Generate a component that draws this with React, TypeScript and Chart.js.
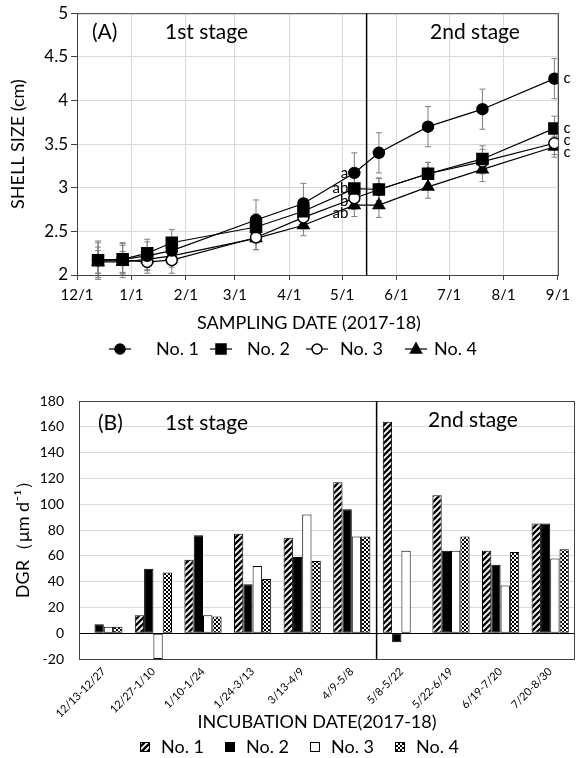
import React, { useEffect, useRef } from "react";
import { Chart, registerables } from "chart.js";

Chart.register(...registerables);

const FONT = "Lato, 'Open Sans', sans-serif";
const TEXT = "#000";
const GRID = "#d9d9d9";
const AXIS = "#404040";

// ---------------- (A) SHELL SIZE ----------------
const seriesNames = ["No. 1", "No. 2", "No. 3", "No. 4"];
const axisStartDate = "2017-12-01";
const samplingDates = [
  "2017-12-13", "2017-12-27", "2018-01-10", "2018-01-24", "2018-03-13", "2018-04-09",
  "2018-05-08", "2018-05-22", "2018-06-19", "2018-07-20", "2018-08-30",
];
const axisTickDates = [
  "2017-12-01", "2018-01-01", "2018-02-01", "2018-03-01", "2018-04-01",
  "2018-05-01", "2018-06-01", "2018-07-01", "2018-08-01", "2018-09-01",
];
const axisTickLabels = ["12/1", "1/1", "2/1", "3/1", "4/1", "5/1", "6/1", "7/1", "8/1", "9/1"];
const stageBoundaryDate = "2018-05-15";

const no1Size = [2.17, 2.18, 2.22, 2.28, 2.63, 2.82, 3.17, 3.40, 3.70, 3.90, 4.25];
const no2Size = [2.17, 2.18, 2.25, 2.37, 2.55, 2.73, 2.99, 2.98, 3.16, 3.33, 3.68];
const no3Size = [2.17, 2.17, 2.15, 2.17, 2.43, 2.66, 2.88, 2.98, 3.16, 3.30, 3.51];
const no4Size = [2.15, 2.15, 2.18, 2.22, 2.42, 2.57, 2.80, 2.80, 3.01, 3.21, 3.47];

const no1Err = [0.2, 0.18, 0.16, 0.15, 0.23, 0.23, 0.23, 0.23, 0.23, 0.23, 0.23];
const no2Err = [0.15, 0.16, 0.16, 0.15, 0.15, 0.14, 0.13, 0.13, 0.13, 0.15, 0.14];
const no3Err = [0.22, 0.2, 0.13, 0.15, 0.14, 0.13, 0.13, 0.13, 0.13, 0.14, 0.13];
const no4Err = [0.13, 0.12, 0.13, 0.13, 0.13, 0.12, 0.13, 0.14, 0.13, 0.14, 0.12];

const midLetters = ["a", "ab", "b", "ab"]; // at 5/8
const endLetters = ["c", "c", "c", "c"]; // at 8/30

// ---------------- (B) DGR ----------------
const incubationPeriods = [
  "12/13-12/27", "12/27-1/10", "1/10-1/24", "1/24-3/13", "3/13-4/9",
  "4/9-5/8", "5/8-5/22", "5/22-6/19", "6/19-7/20", "7/20-8/30",
];
const no1Dgr = [null, 14, 57, 77, 74, 117, 164, 107, 64, 85];
const no2Dgr = [7, 50, 76, 38, 59, 96, -7, 64, 53, 85];
const no3Dgr = [5, -20, 14, 52, 92, 75, 64, 64, 37, 58];
const no4Dgr = [5, 47, 13, 42, 56, 75, null, 75, 63, 65];
const stageBoundaryIndex = 5; // boundary after this category

const dayOf = (s: string) =>
  (Date.parse(s + "T00:00:00Z") - Date.parse(axisStartDate + "T00:00:00Z")) / 86400000;

const font = (size: number) => `${size}px ${FONT}`;

function drawMarker(ctx: CanvasRenderingContext2D, style: string, x: number, y: number, filled: boolean) {
  ctx.save();
  ctx.fillStyle = filled ? "#000" : "#fff";
  ctx.strokeStyle = "#000";
  ctx.lineWidth = 1.5;
  ctx.beginPath();
  if (style === "circle") ctx.arc(x, y, 5, 0, Math.PI * 2);
  else if (style === "rect") ctx.rect(x - 5, y - 5, 10, 10);
  else {
    ctx.moveTo(x, y - 6);
    ctx.lineTo(x + 5.5, y + 4);
    ctx.lineTo(x - 5.5, y + 4);
    ctx.closePath();
  }
  ctx.fill();
  ctx.stroke();
  ctx.restore();
}

function makeHatch(): CanvasPattern {
  const c = document.createElement("canvas");
  c.width = 6;
  c.height = 6;
  const g = c.getContext("2d")!;
  g.fillStyle = "#fff";
  g.fillRect(0, 0, 6, 6);
  g.strokeStyle = "#000";
  g.lineWidth = 2.4;
  g.beginPath();
  g.moveTo(-1, 7); g.lineTo(7, -1);
  g.moveTo(-4, 4); g.lineTo(4, -4);
  g.moveTo(2, 10); g.lineTo(10, 2);
  g.stroke();
  return g.createPattern(c, "repeat")!;
}

function makeDots(): CanvasPattern {
  const c = document.createElement("canvas");
  c.width = 4;
  c.height = 4;
  const g = c.getContext("2d")!;
  g.fillStyle = "#fff";
  g.fillRect(0, 0, 4, 4);
  g.fillStyle = "#000";
  g.fillRect(0, 0, 2, 2);
  g.fillRect(2, 2, 2, 2);
  return g.createPattern(c, "repeat")!;
}

export default function App() {
  const refA = useRef<HTMLCanvasElement>(null);
  const refB = useRef<HTMLCanvasElement>(null);

  useEffect(() => {
    Chart.defaults.font.family = FONT;
    Chart.defaults.color = TEXT;

    const samplingDays = samplingDates.map(dayOf);
    const tickDays = axisTickDates.map(dayOf);
    const stageDay = dayOf(stageBoundaryDate);

    const sizes = [no1Size, no2Size, no3Size, no4Size];
    const errs = [no1Err, no2Err, no3Err, no4Err];
    const styles = ["circle", "rect", "circle", "triangle"];
    const filled = [true, true, false, true];
    const radii = [5.5, 7.8, 5.5, 6.5];

    const overlayA = {
      id: "overlayA",
      beforeDatasetsDraw(chart: any) {
        const ctx = chart.ctx;
        const ys = chart.scales.y;
        ctx.save();
        ctx.strokeStyle = "#7f7f7f";
        ctx.lineWidth = 1;
        chart.data.datasets.forEach((_: any, i: number) => {
          const meta = chart.getDatasetMeta(i);
          meta.data.forEach((pt: any, j: number) => {
            const v = sizes[i][j];
            const e = errs[i][j];
            const t = ys.getPixelForValue(v + e);
            const b = ys.getPixelForValue(v - e);
            ctx.beginPath();
            ctx.moveTo(pt.x, t); ctx.lineTo(pt.x, b);
            ctx.moveTo(pt.x - 3, t); ctx.lineTo(pt.x + 3, t);
            ctx.moveTo(pt.x - 3, b); ctx.lineTo(pt.x + 3, b);
            ctx.stroke();
          });
        });
        ctx.restore();
      },
      afterDraw(chart: any) {
        const ctx = chart.ctx;
        const a = chart.chartArea;
        const xs = chart.scales.x;
        ctx.save();
        // frame
        ctx.strokeStyle = AXIS;
        ctx.lineWidth = 1;
        ctx.strokeRect(a.left + 0.5, a.top + 0.5, a.right - a.left, a.bottom - a.top);
        // stage line
        const sx = xs.getPixelForValue(stageDay);
        ctx.strokeStyle = "#000";
        ctx.lineWidth = 1.5;
        ctx.beginPath();
        ctx.moveTo(sx, a.top); ctx.lineTo(sx, a.bottom);
        ctx.stroke();
        // inner labels
        ctx.fillStyle = TEXT;
        ctx.font = font(21);
        ctx.textBaseline = "middle";
        ctx.textAlign = "left";
        ctx.fillText("(A)", 92, 32);
        ctx.fillText("1st stage", 165, 32);
        ctx.fillText("2nd stage", 430, 32);
        // letters
        ctx.font = font(15);
        const midOff = [0, 0, 3, 8];
        const endOff = [0, 0, -3, 5];
        for (let i = 0; i < 4; i++) {
          const meta = chart.getDatasetMeta(i);
          const p = meta.data[6];
          ctx.textAlign = "right";
          ctx.fillText(midLetters[i], p.x - 6, p.y + midOff[i]);
          const q = meta.data[meta.data.length - 1];
          ctx.textAlign = "left";
          ctx.fillText(endLetters[i], q.x + 9, q.y + endOff[i]);
        }
        // axis titles
        ctx.font = font(18);
        ctx.textAlign = "center";
        ctx.fillText("SAMPLING DATE (2017-18)", 309, 323);
        ctx.save();
        ctx.translate(18, 144);
        ctx.rotate(-Math.PI / 2);
        ctx.fillText("SHELL SIZE (cm)", 0, 0);
        ctx.restore();
        // legend
        const iconX = [120, 221, 317, 416];
        const textX = [156, 247, 340, 434];
        const ly = 349;
        for (let i = 0; i < 4; i++) {
          ctx.strokeStyle = "#000";
          ctx.lineWidth = 1.2;
          ctx.beginPath();
          ctx.moveTo(iconX[i] - 11, ly); ctx.lineTo(iconX[i] + 11, ly);
          ctx.stroke();
          drawMarker(ctx, styles[i], iconX[i], ly, filled[i]);
          ctx.fillStyle = TEXT;
          ctx.font = font(18);
          ctx.textAlign = "left";
          ctx.textBaseline = "middle";
          ctx.fillText(seriesNames[i], textX[i], ly);
        }
        ctx.restore();
      },
    };

    const chartA = new Chart(refA.current!, {
      type: "line",
      data: {
        datasets: sizes.map((vals, i) => ({
          label: seriesNames[i],
          data: samplingDays.map((d, j) => ({ x: d, y: vals[j] })),
          borderColor: "#000",
          borderWidth: 1.2,
          pointStyle: styles[i] as any,
          pointRadius: radii[i],
          pointBackgroundColor: filled[i] ? "#000" : "#fff",
          pointBorderColor: "#000",
          pointBorderWidth: 1.5,
          tension: 0,
        })),
      },
      options: {
        responsive: false,
        animation: false,
        devicePixelRatio: 1,
        layout: { padding: { top: 13, right: 11, bottom: 65, left: 0 } },
        plugins: { legend: { display: false }, tooltip: { enabled: false } },
        scales: {
          x: {
            type: "linear",
            min: tickDays[0],
            max: tickDays[tickDays.length - 1],
            afterBuildTicks: (axis: any) => {
              axis.ticks = tickDays.map((v) => ({ value: v }));
            },
            afterFit: (s: any) => { s.height = 25; },
            ticks: {
              callback: (v: any) => axisTickLabels[tickDays.indexOf(Number(v))] ?? "",
              font: { size: 15 },
              color: TEXT,
              padding: 6,
              maxRotation: 0,
              autoSkip: false,
            },
            grid: { color: GRID, tickColor: AXIS, tickLength: 5 },
            border: { color: AXIS },
          },
          y: {
            min: 2,
            max: 5,
            afterFit: (s: any) => { s.width = 77; },
            ticks: {
              stepSize: 0.5,
              font: { size: 17 },
              color: TEXT,
              padding: 3,
              callback: (v: any) => String(Number(v)),
            },
            grid: { color: GRID, tickColor: AXIS, tickLength: 6 },
            border: { color: AXIS },
          },
        },
      },
      plugins: [overlayA],
    } as any);

    // ---------- Chart B ----------
    const hatch = makeHatch();
    const dots = makeDots();
    const fills: any[] = [hatch, "#000", "#fff", dots];
    const dgr = [no1Dgr, no2Dgr, no3Dgr, no4Dgr];

    const overlayB = {
      id: "overlayB",
      afterDraw(chart: any) {
        const ctx = chart.ctx;
        const a = chart.chartArea;
        const xs = chart.scales.x;
        ctx.save();
        ctx.strokeStyle = AXIS;
        ctx.lineWidth = 1;
        ctx.strokeRect(a.left + 0.5, a.top + 0.5, a.right - a.left - 1, a.bottom - a.top);
        const sx = (xs.getPixelForValue(stageBoundaryIndex) + xs.getPixelForValue(stageBoundaryIndex + 1)) / 2;
        ctx.strokeStyle = "#000";
        ctx.lineWidth = 1.5;
        ctx.beginPath();
        ctx.moveTo(sx, a.top); ctx.lineTo(sx, a.bottom);
        ctx.stroke();
        ctx.fillStyle = TEXT;
        ctx.font = font(21);
        ctx.textBaseline = "middle";
        ctx.textAlign = "left";
        ctx.fillText("(B)", 98, 58);
        ctx.fillText("1st stage", 165, 58);
        ctx.fillText("2nd stage", 428, 55);
        ctx.font = font(18);
        ctx.textAlign = "center";
        ctx.fillText("INCUBATION DATE(2017-18)", 317, 357);
        ctx.save();
        ctx.translate(23, 170);
        ctx.rotate(-Math.PI / 2);
        ctx.fillText("DGR（μm d⁻¹）", 0, 0);
        ctx.restore();
        // legend
        const boxX = [140, 225, 310, 395];
        const ly = 382;
        for (let i = 0; i < 4; i++) {
          ctx.fillStyle = fills[i];
          ctx.fillRect(boxX[i], ly - 5, 10, 10);
          ctx.strokeStyle = "#000";
          ctx.lineWidth = 1;
          ctx.strokeRect(boxX[i] + 0.5, ly - 4.5, 9, 9);
          ctx.fillStyle = TEXT;
          ctx.font = font(18);
          ctx.textAlign = "left";
          ctx.fillText(seriesNames[i], boxX[i] + 21, ly);
        }
        ctx.restore();
      },
    };

    const chartB = new Chart(refB.current!, {
      type: "bar",
      data: {
        labels: incubationPeriods,
        datasets: dgr.map((vals, i) => ({
          label: seriesNames[i],
          data: vals,
          backgroundColor: fills[i],
          borderColor: "#000",
          borderWidth: 1,
          borderSkipped: false,
          categoryPercentage: 0.75,
          barPercentage: 1,
        })),
      },
      options: {
        responsive: false,
        animation: false,
        devicePixelRatio: 1,
        layout: { padding: { top: 36, right: 1, bottom: 39, left: 0 } },
        plugins: { legend: { display: false }, tooltip: { enabled: false } },
        scales: {
          x: {
            afterFit: (s: any) => { s.height = 60; },
            ticks: { font: { size: 11 }, color: TEXT, minRotation: 45, maxRotation: 45, autoSkip: false, padding: 6 },
            grid: { display: false, drawTicks: false },
            border: { display: false },
          },
          y: {
            min: -20,
            max: 180,
            afterFit: (s: any) => { s.width = 79; },
            ticks: { stepSize: 20, font: { size: 14 }, color: TEXT, padding: 15 },
            grid: {
              color: (c: any) => (c.tick && c.tick.value === 0 ? "#000" : GRID),
              drawTicks: false,
            },
            border: { color: AXIS },
          },
        },
      },
      plugins: [overlayB],
    } as any);

    return () => {
      chartA.destroy();
      chartB.destroy();
    };
  }, []);

  return (
    <div style={{ position: "absolute", left: 0, top: 0, width: 576, height: 758, background: "#fff" }}>
      <canvas ref={refA} width={576} height={365} style={{ position: "absolute", left: 0, top: 0 }} />
      <canvas ref={refB} width={576} height={393} style={{ position: "absolute", left: 0, top: 365 }} />
    </div>
  );
}
